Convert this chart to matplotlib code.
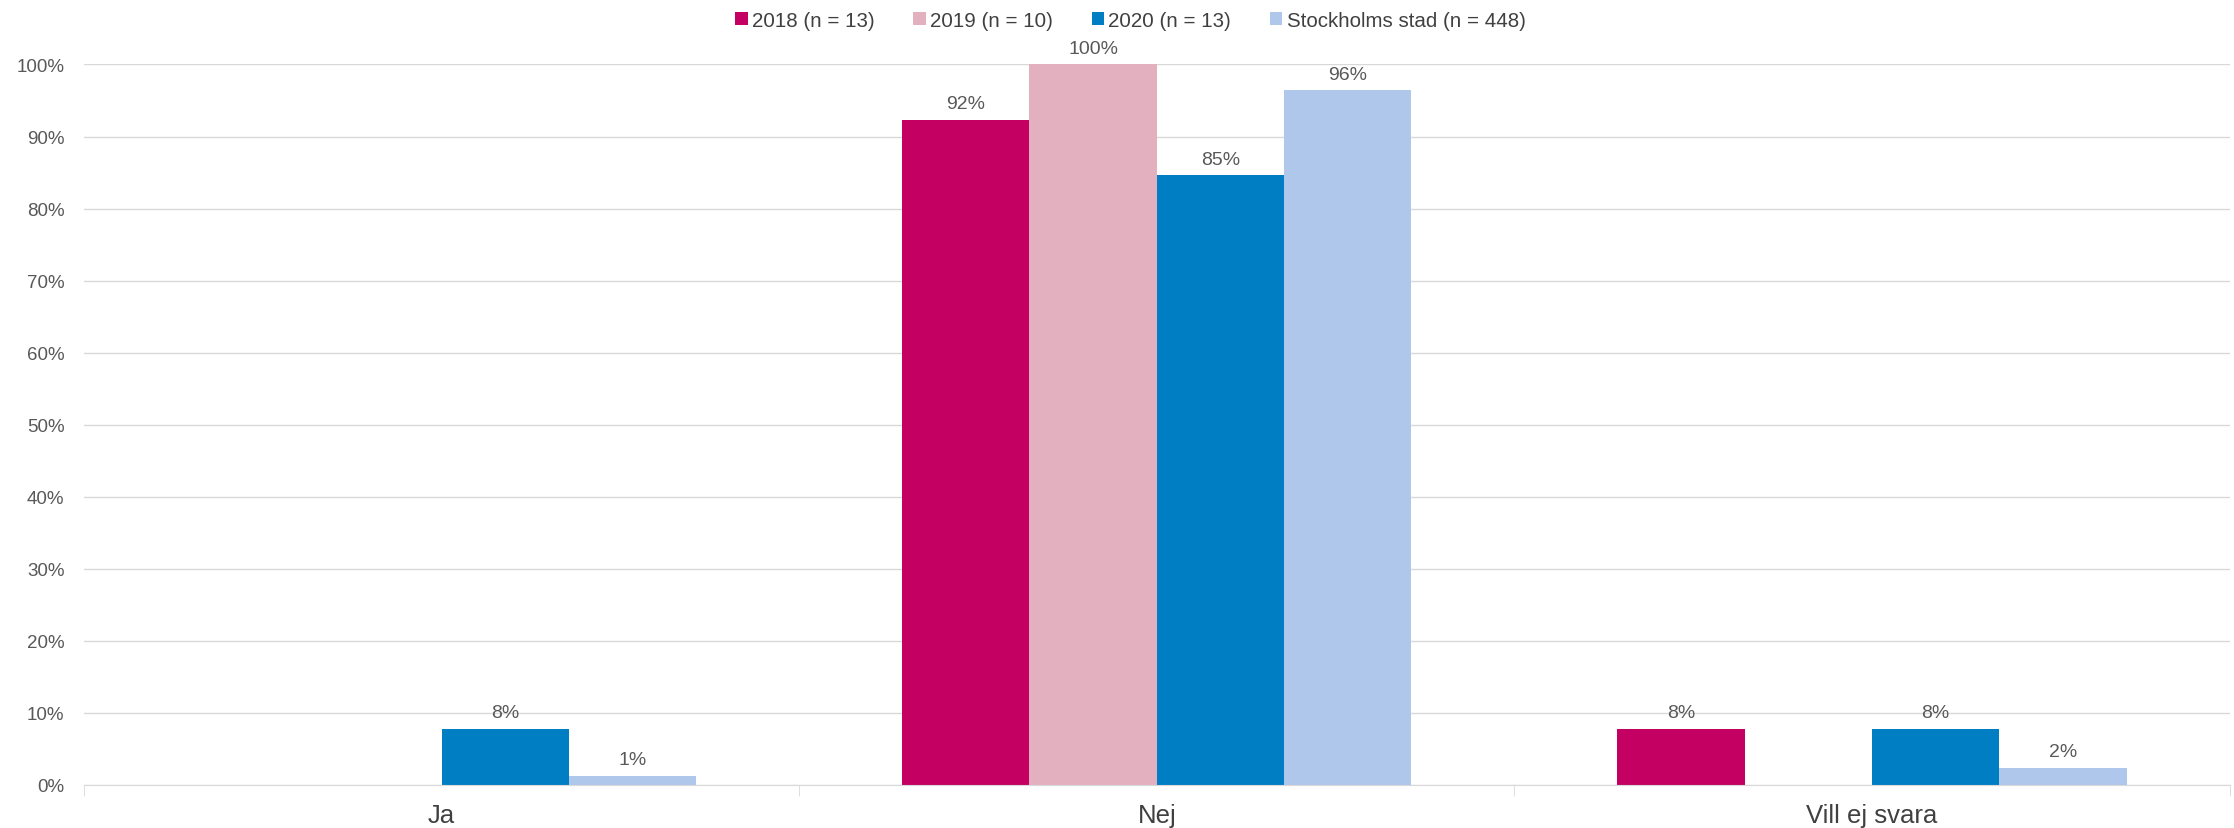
import matplotlib
matplotlib.use("Agg")
import matplotlib.pyplot as plt
import numpy as np

plt.rcParams['font.family'] = ['Liberation Sans', 'DejaVu Sans']

categories = ["Ja", "Nej", "Vill ej svara"]
series_names = ["2018 (n = 13)", "2019 (n = 10)", "2020 (n = 13)", "Stockholms stad (n = 448)"]
v2018 = [np.nan, 92.3, 7.7]
v2019 = [np.nan, 100.0, np.nan]
v2020 = [7.7, 84.6, 7.7]
vsthlm = [1.2, 96.4, 2.4]
series_values = [v2018, v2019, v2020, vsthlm]
colors = ["#C40062", "#E3B0C0", "#007EC4", "#AEC7EB"]
yticks = [0, 10, 20, 30, 40, 50, 60, 70, 80, 90, 100]

fig = plt.figure(figsize=(22.34, 8.29), dpi=100)
ax = fig.add_axes([0.0376, 0.052, 0.9604, 0.869])

x = np.arange(len(categories))
bw = 0.178
n = len(series_values)
for i, (vals, name, c) in enumerate(zip(series_values, series_names, colors)):
    pos = x + (i - (n - 1) / 2) * bw
    vals_arr = np.array(vals, dtype=float)
    ax.bar(pos, np.nan_to_num(vals_arr), width=bw, color=c, label=name, zorder=3)
    for p, v in zip(pos, vals_arr):
        if not np.isnan(v):
            ax.text(p, v + 1.1, f"{v:.0f}%", ha="center", va="bottom",
                    fontsize=14, color="#595959", zorder=4)

ax.set_xlim(-0.5, len(categories) - 0.5)
ax.set_ylim(0, 100)
ax.set_yticks(yticks)
ax.set_yticklabels([f"{t}%" for t in yticks])
ax.yaxis.grid(True, color="#D9D9D9", linewidth=1, zorder=0)
ax.set_xticks(x)
ax.set_xticklabels(categories)
ax.set_xticks(np.arange(len(categories) + 1) - 0.5, minor=True)
ax.tick_params(axis="x", which="major", length=0, pad=13, labelsize=18.5, labelcolor="#404040")
ax.tick_params(axis="x", which="minor", length=8, color="#D9D9D9")
ax.tick_params(axis="y", length=0, pad=14, labelsize=13.5, labelcolor="#595959")
for s in ["top", "right", "left"]:
    ax.spines[s].set_visible(False)
ax.spines["bottom"].set_color("#D9D9D9")
ax.spines["bottom"].set_zorder(5)

leg = fig.legend(loc="upper center", bbox_to_anchor=(0.506, 1.008), ncol=4, frameon=False,
                 fontsize=14.8, handlelength=0.6, handleheight=0.6, handletextpad=0.2,
                 columnspacing=1.9, labelcolor="#404040")

fig.savefig("out.png", dpi=100)
